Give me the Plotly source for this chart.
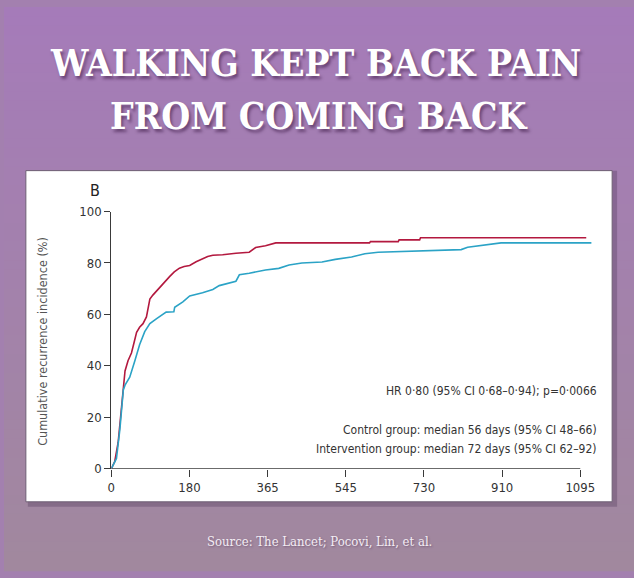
import plotly.graph_objects as go

# ---- data ----
control_days = [0, 8, 16, 24, 29, 32, 39, 47, 53, 59, 66, 74, 82, 86, 90, 97, 105, 113, 121, 128,
                136, 147, 159, 170, 183, 198, 213, 225, 237, 260, 291, 322, 337, 360, 384, 603,
                605, 670, 672, 720, 722, 1109]
control_pct = [0, 2.8, 10.3, 23, 33, 38, 42, 45, 49, 53, 55, 56.4, 59, 63, 66, 67.5, 69, 70.5, 72, 73.5,
               74.7, 76.5, 78, 78.6, 79, 80.5, 81.7, 82.5, 83, 83.2, 83.8, 84.2, 86, 86.7, 87.8, 87.8,
               88.3, 88.3, 89, 89, 89.8, 89.8]

interv_days = [0, 12, 20, 28, 32, 43, 55, 66, 78, 90, 105, 128, 146, 148, 167, 183, 213, 237, 252, 275,
               291, 299, 322, 360, 391, 415, 445, 492, 523, 561, 592, 623, 716, 817, 832, 871, 910, 1121]
interv_pct = [0, 4, 15.4, 30.6, 32.5, 35.6, 42, 48.2, 53.3, 56.4, 58.3, 60.9, 61, 62.8, 64.9, 67.2, 68.4,
              69.7, 71.2, 72.2, 72.9, 75.4, 76, 77.3, 77.9, 79.2, 80, 80.4, 81.4, 82.3, 83.6, 84.2, 84.8,
              85.2, 86.1, 87, 87.8, 87.8]

x_ticks = [0, 180, 365, 545, 730, 910, 1095]
x_tick_pos = [0, 182.5, 365, 547.5, 730, 912.5, 1095]
y_ticks = [0, 20, 40, 60, 80, 100]

title_lines = ["WALKING KEPT BACK PAIN", "FROM COMING BACK"]
hr_text = "HR 0·80 (95% CI 0·68–0·94); p=0·0066"
control_text = "Control group: median 56 days (95% CI 48–66)"
interv_text = "Intervention group: median 72 days (95% CI 62–92)"
source_text = "Source: The Lancet; Pocovi, Lin, et al."

W, H = 634, 578
def px(x):
    return x / W
def py(y):
    return 1 - y / H

RED = "#b3193f"
BLUE = "#2ba3c6"
CHART_FONT = "DejaVu Sans Condensed"

fig = go.Figure()
fig.add_trace(go.Scatter(x=control_days, y=control_pct, mode="lines",
                         line=dict(color=RED, width=1.6), hoverinfo="skip", showlegend=False))
fig.add_trace(go.Scatter(x=interv_days, y=interv_pct, mode="lines",
                         line=dict(color=BLUE, width=1.6), hoverinfo="skip", showlegend=False))

shapes = []
# gradient background
top = (165, 123, 185)
bot = (161, 136, 158)
N = 60
for i in range(N):
    t = i / (N - 1)
    c = tuple(round(top[k] + (bot[k] - top[k]) * t) for k in range(3))
    shapes.append(dict(type="rect", xref="paper", yref="paper", layer="below",
                       x0=0, x1=1, y0=1 - i / N, y1=1 - (i + 1) / N - 0.002,
                       fillcolor="rgb(%d,%d,%d)" % c, line=dict(width=0)))
# panel shadow
shapes.append(dict(type="rect", xref="paper", yref="paper", layer="below",
                   x0=px(24), x1=px(617), y0=py(168), y1=py(513),
                   fillcolor="rgba(70,45,80,0.30)", line=dict(width=0)))
# white panel
shapes.append(dict(type="rect", xref="paper", yref="paper", layer="below",
                   x0=px(22), x1=px(612), y0=py(168), y1=py(508),
                   fillcolor="white", line=dict(color="#6e5f74", width=1)))
# x-axis line
shapes.append(dict(type="line", xref="x", yref="y", x0=0, x1=1095, y0=0, y1=0,
                   line=dict(color="#3a3a3a", width=1.2)))

annotations = [
    dict(text=title_lines[0], x=px(313), y=py(58)),
    dict(text=title_lines[1], x=px(317), y=py(112)),
]
for a in annotations:
    a.update(xref="paper", yref="paper", showarrow=False, xanchor="center", yanchor="middle",
             font=dict(family="DejaVu Serif Condensed", size=37, color="white", weight="bold",
                       shadow="2px 3px 3px rgba(60,25,70,0.55)"))

annotations += [
    dict(text="B", x=px(92), y=py(188), xref="paper", yref="paper", showarrow=False,
         xanchor="center", yanchor="middle", font=dict(family=CHART_FONT, size=16, color="#222")),
    dict(text="Cumulative recurrence incidence (%)", x=px(38), y=py(343), xref="paper", yref="paper",
         showarrow=False, textangle=-90, xanchor="center", yanchor="middle",
         font=dict(family=CHART_FONT, size=12.5, color="#555")),
    dict(text=hr_text, x=px(599), y=py(394), xref="paper", yref="paper", showarrow=False,
         xanchor="right", yanchor="middle", font=dict(family=CHART_FONT, size=12, color="#333")),
    dict(text=control_text, x=px(599), y=py(434), xref="paper", yref="paper", showarrow=False,
         xanchor="right", yanchor="middle", font=dict(family=CHART_FONT, size=12, color="#333")),
    dict(text=interv_text, x=px(599), y=py(454), xref="paper", yref="paper", showarrow=False,
         xanchor="right", yanchor="middle", font=dict(family=CHART_FONT, size=12, color="#333")),
    dict(text=source_text, x=px(317), y=py(549), xref="paper", yref="paper", showarrow=False,
         xanchor="center", yanchor="middle",
         font=dict(family="DejaVu Serif Condensed", size=13, color="#f3ecf3",
                   shadow="1px 1px 2px rgba(60,30,70,0.4)")),
]

fig.update_layout(
    width=W, height=H, margin=dict(l=0, r=0, t=0, b=0),
    paper_bgcolor="rgb(163,128,175)", plot_bgcolor="rgba(0,0,0,0)",
    shapes=shapes, annotations=annotations, showlegend=False,
    xaxis=dict(domain=[px(108), px(595)], range=[0, 1130], showline=False, showgrid=False,
               zeroline=False, tickmode="array", tickvals=x_tick_pos, ticktext=[str(t) for t in x_ticks],
               ticks="outside", ticklen=7, tickwidth=1.2, tickcolor="#3a3a3a",
               tickfont=dict(family=CHART_FONT, size=13, color="#333")),
    yaxis=dict(domain=[py(474), py(210)], range=[0, 100], showline=True, linecolor="#3a3a3a",
               linewidth=1.2, showgrid=False, zeroline=False, tickmode="array", tickvals=y_ticks,
               ticks="outside", ticklen=6, tickwidth=1.2, tickcolor="#3a3a3a",
               tickfont=dict(family=CHART_FONT, size=13, color="#333")),
)

fig.write_html("out.html", config={"displayModeBar": False},
               post_script="document.body.style.margin='0';document.body.style.overflow='hidden';")
